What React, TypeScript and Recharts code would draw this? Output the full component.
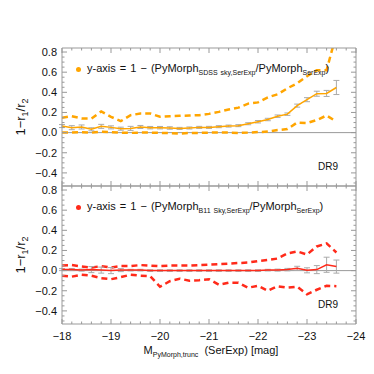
import React from 'react';
import { ComposedChart, Line, XAxis, YAxis, ReferenceLine, ErrorBar } from 'recharts';

// absolute magnitude bins (x)
const mags = [
  -18.0, -18.2, -18.4, -18.6, -18.8, -19.0, -19.2, -19.4, -19.6, -19.8,
  -20.0, -20.2, -20.4, -20.6, -20.8, -21.0, -21.2, -21.4, -21.6, -21.8,
  -22.0, -22.2, -22.4, -22.6, -22.8, -23.0, -23.2, -23.4, -23.6,
];

// top panel: SDSS sky vs SerExp
const skyMedian = [
  0.065, 0.049, 0.056, 0.033, 0.062, 0.052, 0.039, 0.042, 0.056, 0.049,
  0.049, 0.046, 0.042, 0.046, 0.052, 0.052, 0.059, 0.065, 0.069, 0.088,
  0.108, 0.13, 0.163, 0.183, 0.268, 0.327, 0.386, 0.389, 0.448,
];
const skyErr = [
  0.015, 0.02, 0.02, 0.015, 0.02, 0.015, 0.015, 0.02, 0.015, 0.012,
  0.012, 0.012, 0.01, 0.01, 0.01, 0.01, 0.01, 0.01, 0.01, 0.01,
  0.012, 0.012, 0.012, 0.012, 0.015, 0.02, 0.025, 0.03, 0.07,
];
const skyUpper = [
  0.147, 0.163, 0.14, 0.14, 0.21, 0.157, 0.114, 0.173, 0.19, 0.19,
  0.157, 0.163, 0.167, 0.17, 0.173, 0.186, 0.206, 0.229, 0.248, 0.288,
  0.3, 0.35, 0.38, 0.44, 0.49, 0.56, 0.62, 0.62, 0.98,
];
const skyLower = [
  0.0, 0.0, 0.005, 0.0, 0.01, 0.005, 0.0, -0.003, 0.0, 0.0,
  -0.003, -0.005, -0.01, -0.003, -0.003, 0.0, 0.0, 0.0, -0.003, 0.0,
  0.005, 0.01, 0.025, 0.035, 0.1, 0.095, 0.125, 0.17, 0.11,
];

// bottom panel: B11 sky vs SerExp
const b11Median = [
  0.01, 0.01, 0.005, 0.01, 0.005, 0.0, 0.005, 0.005, 0.005, 0.0,
  0.0, 0.0, 0.0, 0.0, 0.0, 0.0, 0.0, 0.0, 0.0, 0.0,
  0.0, 0.005, 0.005, 0.01, 0.023, 0.003, 0.01, 0.058, 0.04,
];
const b11Err = [
  0.01, 0.01, 0.01, 0.03, 0.03, 0.03, 0.015, 0.008, 0.008, 0.008,
  0.008, 0.008, 0.008, 0.008, 0.008, 0.008, 0.008, 0.008, 0.008, 0.008,
  0.008, 0.008, 0.01, 0.012, 0.02, 0.025, 0.04, 0.075, 0.065,
];
const b11Upper = [
  0.05, 0.055, 0.04, 0.03, 0.045, 0.03, 0.045, 0.045, 0.055, 0.05,
  0.045, 0.05, 0.05, 0.05, 0.055, 0.06, 0.065, 0.07, 0.075, 0.08,
  0.095, 0.105, 0.12, 0.17, 0.19, 0.16, 0.24, 0.27, 0.18,
];
const b11Lower = [
  -0.05, -0.06, -0.04, -0.05, -0.075, -0.085, -0.065, -0.04, -0.05, -0.055,
  -0.16, -0.105, -0.08, -0.1, -0.095, -0.085, -0.14, -0.12, -0.12, -0.17,
  -0.15, -0.2, -0.155, -0.17, -0.16, -0.235, -0.19, -0.15, -0.155,
];

const xMajor = [-18, -19, -20, -21, -22, -23, -24];
const xTicks = [
  -18, -18.2, -18.4, -18.6, -18.8, -19, -19.2, -19.4, -19.6, -19.8,
  -20, -20.2, -20.4, -20.6, -20.8, -21, -21.2, -21.4, -21.6, -21.8,
  -22, -22.2, -22.4, -22.6, -22.8, -23, -23.2, -23.4, -23.6, -23.8, -24,
];
const yMajor = [-0.4, -0.2, 0, 0.2, 0.4, 0.6, 0.8];
const yTicks = [
  -0.5, -0.45, -0.4, -0.35, -0.3, -0.25, -0.2, -0.15, -0.1, -0.05, 0,
  0.05, 0.1, 0.15, 0.2, 0.25, 0.3, 0.35, 0.4, 0.45, 0.5, 0.55, 0.6, 0.65, 0.7, 0.75, 0.8,
];

const ORANGE = '#ffa500';
const RED = '#ff2a1a';
const AXIS = '#999999';
const FONT = '"Liberation Sans", Arial, sans-serif';

const isIn = (arr: number[], v: number) => arr.some((a) => Math.abs(a - v) < 1e-6);
const minus = (v: number, digits: number) =>
  (v < -1e-9 ? '\u2212' : '') + Math.abs(v).toFixed(digits);

const build = (med: number[], err: number[], up: number[], lo: number[]) =>
  mags.map((m, i) => ({ mag: m, median: med[i], err: err[i], upper: up[i], lower: lo[i] }));

const XTick = (props: any) => {
  const { x, y, payload, side, showLabel } = props;
  const major = isIn(xMajor, payload.value);
  const len = major ? 5 : 2.5;
  const dir = side === 'bottom' ? -1 : 1;
  return (
    <g>
      <line x1={x} y1={y} x2={x} y2={y + dir * len} stroke={AXIS} />
      {showLabel && major && (
        <text x={x} y={y + 12} dy="0.35em" textAnchor="middle" fontSize={11} fill="#111" fontFamily={FONT}>
          {minus(payload.value, 0)}
        </text>
      )}
    </g>
  );
};

const YTick = (props: any) => {
  const { x, y, payload, side } = props;
  const major = isIn(yMajor, payload.value);
  const len = major ? 5 : 2.5;
  const dir = side === 'left' ? 1 : -1;
  return (
    <g>
      <line x1={x} y1={y} x2={x + dir * len} y2={y} stroke={AXIS} />
      {side === 'left' && major && (
        <text x={x - 5} y={y} dy="0.35em" textAnchor="end" fontSize={11} fill="#111" fontFamily={FONT}>
          {minus(payload.value, 1)}
        </text>
      )}
    </g>
  );
};

const Panel = ({ data, color, top, height, margin, showX }: any) => (
  <div style={{ position: 'absolute', left: 0, top, width: 374, height }}>
    <ComposedChart width={374} height={height} data={data} margin={margin}>
      <XAxis
        xAxisId="b" dataKey="mag" type="number" domain={[-24, -18]} reversed allowDataOverflow
        ticks={xTicks} interval={0} height={1} tickSize={0} tickMargin={0} tickLine={false}
        axisLine={{ stroke: AXIS }} tick={(p: any) => <XTick {...p} side="bottom" showLabel={showX} />}
      />
      <XAxis
        xAxisId="t" orientation="top" dataKey="mag" type="number" domain={[-24, -18]} reversed allowDataOverflow
        ticks={xTicks} interval={0} height={1} tickSize={0} tickMargin={0} tickLine={false}
        axisLine={{ stroke: AXIS }} tick={(p: any) => <XTick {...p} side="top" />}
      />
      <YAxis
        yAxisId="l" type="number" domain={[-0.53, 0.84]} allowDataOverflow
        ticks={yTicks} interval={0} width={1} tickSize={0} tickMargin={0} tickLine={false}
        axisLine={{ stroke: AXIS }} tick={(p: any) => <YTick {...p} side="left" />}
      />
      <YAxis
        yAxisId="r" orientation="right" type="number" domain={[-0.53, 0.84]} allowDataOverflow
        ticks={yTicks} interval={0} width={1} tickSize={0} tickMargin={0} tickLine={false}
        axisLine={{ stroke: AXIS }} tick={(p: any) => <YTick {...p} side="right" />}
      />
      <ReferenceLine xAxisId="b" yAxisId="l" y={0} stroke={AXIS} />
      <Line xAxisId="b" yAxisId="l" dataKey="upper" stroke={color} strokeWidth={2.5} strokeDasharray="6 4" dot={false} isAnimationActive={false} />
      <Line xAxisId="b" yAxisId="l" dataKey="lower" stroke={color} strokeWidth={2.5} strokeDasharray="6 4" dot={false} isAnimationActive={false} />
      <Line xAxisId="b" yAxisId="l" dataKey="median" stroke={color} strokeWidth={1.5} dot={false} isAnimationActive={false}>
        <ErrorBar dataKey="err" width={3} stroke="#aaaaaa" strokeWidth={1} direction="y" />
      </Line>
    </ComposedChart>
  </div>
);

const Sub = ({ children, size = 7, shift = 3 }: any) => (
  <span style={{ fontSize: size, position: 'relative', top: shift }}>{children}</span>
);

const Legend = ({ color, top, a }: any) => (
  <div style={{ position: 'absolute', left: 76, top, fontFamily: FONT, fontSize: 11, color: '#111', whiteSpace: 'nowrap', lineHeight: '14px', wordSpacing: 1 }}>
    <span style={{ display: 'inline-block', width: 5, height: 5, borderRadius: 3, background: color, marginRight: 6, verticalAlign: 'middle' }} />
    y-axis = 1 &minus; (PyMorph<Sub>{a}</Sub>/PyMorph<Sub>SerExp</Sub>)
  </div>
);

const YLabel = ({ top }: any) => (
  <div style={{ position: 'absolute', left: 21, top, width: 0, height: 0 }}>
    <div style={{ position: 'absolute', transform: 'translate(-50%, -50%) rotate(-90deg)', fontFamily: FONT, fontSize: 13, color: '#111', whiteSpace: 'nowrap', lineHeight: '16px' }}>
      1&minus;r<Sub size={9} shift={3}>1</Sub>/r<Sub size={9} shift={3}>2</Sub>
    </div>
  </div>
);

const Tag = ({ top }: any) => (
  <div style={{ position: 'absolute', left: 318, top, fontFamily: FONT, fontSize: 10, color: '#111' }}>DR9</div>
);

export default function App() {
  const skyData = build(skyMedian, skyErr, skyUpper, skyLower);
  const b11Data = build(b11Median, b11Err, b11Upper, b11Lower);
  return (
    <div style={{ position: 'absolute', left: 0, top: 0, width: 374, height: 374, background: '#fff', overflow: 'hidden' }}>
      <Panel data={skyData} color={ORANGE} top={0} height={187} margin={{ top: 47, right: 17, bottom: 0, left: 61 }} showX={false} />
      <Panel data={b11Data} color={RED} top={185} height={189} margin={{ top: 0, right: 17, bottom: 49, left: 61 }} showX />
      <Legend color={ORANGE} top={61} a="SDSS sky,SerExp" />
      <Legend color={RED} top={199} a="B11 Sky,SerExp" />
      <YLabel top={117} />
      <YLabel top={255} />
      <Tag top={161} />
      <Tag top={299} />
      <div style={{ position: 'absolute', left: 0, width: 374, top: 343, textAlign: 'center', paddingLeft: 48, boxSizing: 'border-box', fontFamily: FONT, fontSize: 11, color: '#111', lineHeight: '14px' }}>
        M<Sub>PyMorph,trunc</Sub>&nbsp; (SerExp) [mag]
      </div>
    </div>
  );
}
